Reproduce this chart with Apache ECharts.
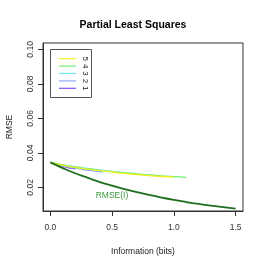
<!DOCTYPE html>
<html><head><meta charset="utf-8">
<script src="https://cdn.jsdelivr.net/npm/echarts@6/dist/echarts.min.js"></script>
<style>html,body{margin:0;padding:0;background:#fff}#c{width:266px;height:266px}</style>
</head><body><div id="c"></div>
<script>
var xTicks = [0.0, 0.5, 1.0, 1.5];
var xTickLabels = ['0.0', '0.5', '1.0', '1.5'];
var yTicks = [0.02, 0.04, 0.06, 0.08, 0.10];
var yTickLabels = ['0.02', '0.04', '0.06', '0.08', '0.10'];
var seriesNames = ['1', '2', '3', '4', '5'];
var seriesColors = ['#8050f0', '#90a8f8', '#70e8f0', '#70f070', '#f0f020'];
var line1 = [[0, 0.0345], [0.1, 0.0322], [0.2, 0.0307]];
var line2 = [[0, 0.0345], [0.1, 0.0325], [0.2, 0.0311], [0.3, 0.0300], [0.42, 0.0289]];
var line3 = [[0, 0.0345], [0.1, 0.0331], [0.2, 0.0320], [0.3, 0.0310], [0.4, 0.0301], [0.5, 0.0293], [0.6, 0.0286], [0.7, 0.0280]];
var line4 = [[0, 0.0345], [0.1, 0.0330], [0.2, 0.0318], [0.3, 0.0308], [0.4, 0.0299], [0.5, 0.0291], [0.6, 0.0284], [0.7, 0.0278], [0.8, 0.0272], [0.9, 0.0267], [1.0, 0.0262], [1.1, 0.0258]];
var line5 = [[0, 0.0345], [0.1, 0.0328], [0.2, 0.0316], [0.3, 0.0306], [0.4, 0.0297], [0.5, 0.0289], [0.6, 0.0281], [0.7, 0.0274], [0.8, 0.0268], [0.9, 0.0263], [1.0, 0.0259]];
var rmseI = [[0, 0.0345], [0.1, 0.0312], [0.2, 0.0282], [0.3, 0.0256], [0.4, 0.0231], [0.5, 0.0210], [0.6, 0.0190], [0.7, 0.0172], [0.8, 0.0156], [0.9, 0.0141], [1.0, 0.0127], [1.1, 0.0115], [1.2, 0.0104], [1.3, 0.0094], [1.4, 0.0085], [1.5, 0.0077]];
var lines = [line1, line2, line3, line4, line5];

var chart = echarts.init(document.getElementById('c'));
var font = 'Liberation Sans, Arial, sans-serif';
var series = lines.map(function (d, i) {
  return { type: 'line', name: seriesNames[i], data: d, showSymbol: false, smooth: true,
    lineStyle: { color: seriesColors[i], width: 1.3 }, z: 2 + i, animation: false };
});
series.push({ type: 'line', name: 'RMSE(I)', data: rmseI, showSymbol: false, smooth: true,
  lineStyle: { color: '#1f6e1f', width: 1.8 }, z: 10, animation: false });

var legendItems = [];
var lx = 59, ly0 = 58.7, dy = 7.4;
for (var k = 0; k < 5; k++) {
  var idx = 4 - k;
  var yy = ly0 + k * dy;
  legendItems.push({ type: 'line', shape: { x1: lx, y1: yy, x2: lx + 17, y2: yy },
    style: { stroke: seriesColors[idx], lineWidth: 1.2 } });
  legendItems.push({ type: 'text', x: 85, y: yy, rotation: -Math.PI / 2,
    style: { text: seriesNames[idx], font: '8px ' + font, fill: '#222', align: 'center', verticalAlign: 'middle' } });
}
legendItems.push({ type: 'rect', shape: { x: 50.5, y: 49.5, width: 41, height: 48 },
  style: { fill: 'none', stroke: '#555', lineWidth: 1 } });

chart.setOption({
  animation: false,
  title: { text: 'Partial Least Squares', left: 'center', top: 15,
    textStyle: { fontFamily: font, fontSize: 10.5, fontWeight: 'bold', color: '#000' } },
  grid: { left: 43, right: 23, top: 43, bottom: 55, show: true, borderColor: '#333', borderWidth: 1,
    containLabel: false, outerBoundsMode: 'none' },
  xAxis: { type: 'value', min: -0.06, max: 1.56, position: 'bottom',
    name: 'Information (bits)', nameLocation: 'middle', nameGap: 36,
    nameTextStyle: { fontFamily: font, fontSize: 8.5, color: '#222' },
    axisLine: { show: true, onZero: false, lineStyle: { color: '#333', width: 1 } }, splitLine: { show: false },
    axisTick: { show: true, inside: false, length: 5, customValues: xTicks, lineStyle: { color: '#333' } },
    axisLabel: { customValues: xTicks, formatter: function (v) { return xTickLabels[xTicks.indexOf(+v.toFixed(2))] || ''; },
      fontFamily: font, fontSize: 8.5, color: '#333', margin: 12 } },
  yAxis: { type: 'value', min: 0.0063, max: 0.1037, position: 'left',
    name: 'RMSE', nameLocation: 'middle', nameGap: 29, nameRotate: 90,
    nameTextStyle: { fontFamily: font, fontSize: 8.5, color: '#222' },
    axisLine: { show: true, onZero: false, lineStyle: { color: '#333', width: 1 } }, splitLine: { show: false },
    axisTick: { show: true, inside: false, length: 5, customValues: yTicks, lineStyle: { color: '#333' } },
    axisLabel: { customValues: yTicks, rotate: 90, formatter: function (v) { return yTickLabels[yTicks.indexOf(+v.toFixed(2))] || ''; },
      fontFamily: font, fontSize: 8.5, color: '#333', margin: 8 } },
  series: series,
  graphic: legendItems.concat([{ type: 'text', x: 112, y: 196, style: { text: 'RMSE(I)', font: '8.5px ' + font,
    fill: '#3a9a3a', align: 'center', verticalAlign: 'middle' } }])
});
</script></body></html>
